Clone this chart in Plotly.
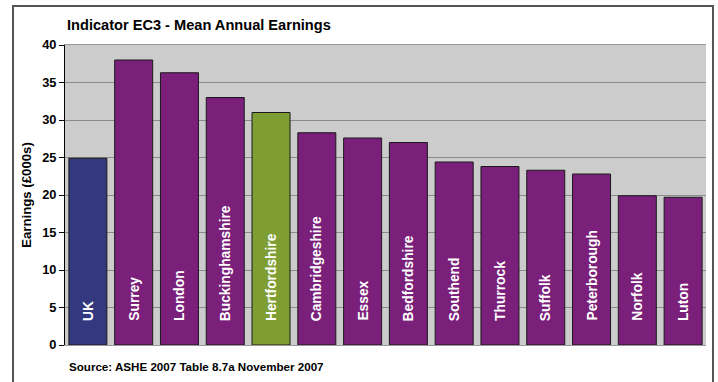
import plotly.graph_objects as go

categories = ["UK", "Surrey", "London", "Buckinghamshire", "Hertfordshire", "Cambridgeshire",
              "Essex", "Bedfordshire", "Southend", "Thurrock", "Suffolk", "Peterborough",
              "Norfolk", "Luton"]
earnings = [24.9, 38.0, 36.3, 33.0, 31.0, 28.3, 27.6, 27.0, 24.4, 23.8, 23.3, 22.8, 19.9, 19.7]
y_ticks = [0, 5, 10, 15, 20, 25, 30, 35, 40]

PURPLE = "#7A1F7A"
colors = []
for c in categories:
    if c == "UK":
        colors.append("#34397F")
    elif c == "Hertfordshire":
        colors.append("#7E9E34")
    else:
        colors.append(PURPLE)

FONT = "Liberation Sans, Arial, sans-serif"

fig = go.Figure()
fig.add_trace(go.Bar(
    x=categories, y=earnings,
    marker=dict(color=colors, line=dict(color="#1a1a1a", width=1)),
    hoverinfo="x+y",
))

for c in categories:
    fig.add_annotation(
        x=c, y=0, xref="x", yref="y",
        text=c, textangle=-90,
        yanchor="bottom", xanchor="center", yshift=22,
        showarrow=False,
        font=dict(family=FONT, size=13.8, color="white", weight="bold"),
    )

fig.add_annotation(
    x=0, xref="paper", y=1, yref="paper", yshift=20,
    text="Indicator EC3 - Mean Annual Earnings",
    xanchor="left", yanchor="middle", showarrow=False,
    font=dict(family=FONT, size=14.6, color="black", weight="bold"),
)
fig.add_annotation(
    x=0, xref="paper", y=0, yref="paper", yshift=-21, xshift=2,
    text="Source: ASHE 2007 Table 8.7a November 2007",
    xanchor="left", yanchor="middle", showarrow=False,
    font=dict(family=FONT, size=11.6, color="black", weight="bold"),
)

# outer frame
fig.add_shape(type="rect", xref="paper", yref="paper",
              x0=(13 - 65) / 641, x1=(713 - 65) / 641,
              y0=-0.2, y1=(345 - 6) / 300,
              line=dict(color="#555555", width=2), fillcolor="rgba(0,0,0,0)",
              layer="below")

fig.update_layout(
    width=718, height=382,
    margin=dict(l=65, r=12, t=45, b=37),
    paper_bgcolor="white",
    plot_bgcolor="#CCCCCC",
    bargap=0.17,
    showlegend=False,
    font=dict(family=FONT, color="black"),
    xaxis=dict(showticklabels=False, ticks="", showgrid=False, zeroline=False,
               showline=True, linecolor="#999999", linewidth=1, mirror=True),
    yaxis=dict(range=[0, 40], tickvals=y_ticks, ticks="outside", ticklen=5,
               tickcolor="black",
               tickfont=dict(family=FONT, size=12.8, color="black", weight="bold"),
               showgrid=True, gridcolor="#8C8C8C", gridwidth=1,
               zeroline=False, showline=True, linecolor="black", linewidth=1,
               title=dict(text="Earnings (£000s)", standoff=7,
                          font=dict(family=FONT, size=13.2, color="black", weight="bold"))),
)

fig.write_html("out.html")
